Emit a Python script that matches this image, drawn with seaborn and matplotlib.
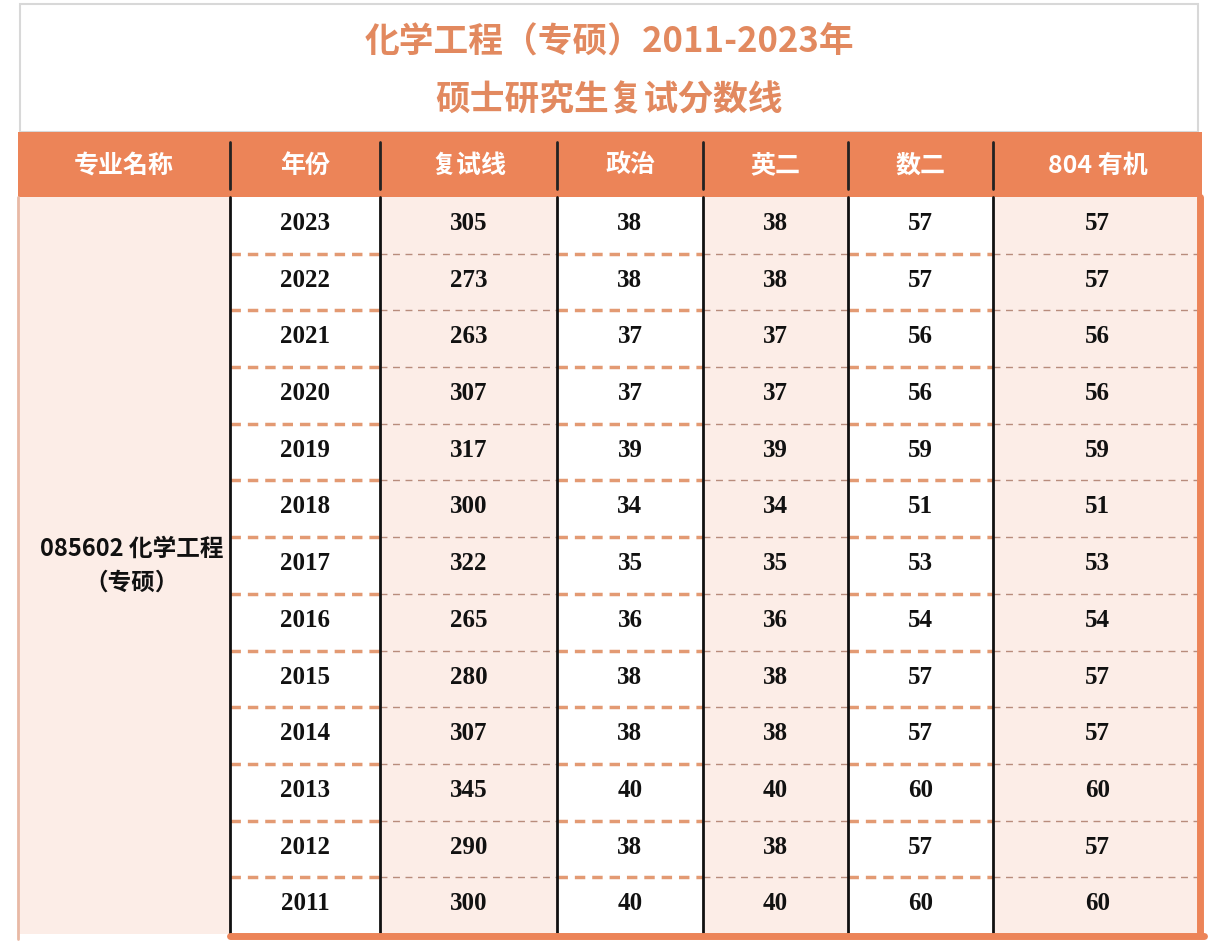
import matplotlib
matplotlib.use("Agg")
import matplotlib.pyplot as plt
from matplotlib.patches import Rectangle
import seaborn as sns

title_lines = ["化学工程（专硕）2011-2023年", "硕士研究生复试分数线"]
headers = ["专业名称", "年份", "复试线", "政治", "英二", "数二", "804 有机"]
major = "085602 化学工程\n（专硕）"
years = [2023, 2022, 2021, 2020, 2019, 2018, 2017, 2016, 2015, 2014, 2013, 2012, 2011]
total = [305, 273, 263, 307, 317, 300, 322, 265, 280, 307, 345, 290, 300]
politics = [38, 38, 37, 37, 39, 34, 35, 36, 38, 38, 40, 38, 40]
english = [38, 38, 37, 37, 39, 34, 35, 36, 38, 38, 40, 38, 40]
math2 = [57, 57, 56, 56, 59, 51, 53, 54, 57, 57, 60, 57, 60]
organic = [57, 57, 56, 56, 59, 51, 53, 54, 57, 57, 60, 57, 60]

sns.set_style("white")
ORANGE = "#EC8458"
PINK = "#FCEDE7"
TITLE = "#E2895F"
CJK = ["Noto Sans CJK SC", "Noto Sans CJK JP", "Noto Sans CJK TC", "Noto Sans CJK KR", "DejaVu Sans"]
SERIF = "Liberation Serif"

fig = plt.figure(figsize=(12.11, 9.45), dpi=100)
ax = fig.add_axes([0, 0, 1, 1])
ax.set_xlim(0, 1211); ax.set_ylim(945, 0); ax.axis("off")

# title box
ax.add_patch(Rectangle((20, 5), 1178, 128, fill=False, ec="#D8D8D8", lw=1.5))
ax.text(609, 42, title_lines[0], ha="center", va="center", fontsize=25, color=TITLE, fontfamily=CJK, fontweight="bold")
ax.text(609, 100, title_lines[1], ha="center", va="center", fontsize=25, color=TITLE, fontfamily=CJK, fontweight="bold")

edges = [18, 230, 380, 557, 703, 848, 993, 1202]
top_h, bot_h = 133, 198
body_bot = 935
nrow = len(years)
rh = (body_bot - bot_h) / nrow

# header
ax.add_patch(Rectangle((18, top_h), 1184, bot_h - top_h, color=ORANGE, lw=0))
for i, h in enumerate(headers):
    ax.text((edges[i] + edges[i + 1]) / 2, (top_h + bot_h) / 2, h, ha="center", va="center",
            fontsize=18, color="white", fontfamily=CJK, fontweight="bold")
for x in edges[1:-1]:
    ax.plot([x, x], [top_h + 10, bot_h - 8], color="#222222", lw=2)

# body backgrounds
ax.add_patch(Rectangle((18, bot_h), 212, body_bot - bot_h, color=PINK, lw=0))
for c in range(6):
    col = "white" if c % 2 == 0 else PINK
    ax.add_patch(Rectangle((edges[c + 1], bot_h), edges[c + 2] - edges[c + 1], body_bot - bot_h, color=col, lw=0))

# dashed separators
for r in range(1, nrow):
    y = bot_h + r * rh
    for c in range(6):
        x0, x1 = edges[c + 1], edges[c + 2]
        if c % 2 == 0:
            ax.plot([x0, x1], [y, y], color="#E39A73", lw=2.5, ls=(0, (3, 2)))
        else:
            ax.plot([x0, x1], [y, y], color="#B88C7C", lw=1, ls=(0, (5, 4)))

for x in edges[1:-1]:
    ax.plot([x, x], [bot_h, body_bot], color="#111111", lw=2)
ax.plot([edges[-1] - 2, edges[-1] - 2], [bot_h, body_bot], color=ORANGE, lw=5)
ax.plot([18, 18], [bot_h, 940], color="#E8B9A5", lw=2)
ax.plot([230, 1204], [body_bot + 2, body_bot + 2], color=ORANGE, lw=5)

ax.text(132, 566, major, ha="center", va="center", fontsize=17, fontfamily=CJK,
        fontweight="bold", color="#111111", linespacing=1.5)

cols = [years, total, politics, english, math2, organic]
for c, vals in enumerate(cols):
    xc = (edges[c + 1] + edges[c + 2]) / 2
    for r, v in enumerate(vals):
        ax.text(xc, bot_h + (r + 0.45) * rh, str(v), ha="center", va="center",
                fontsize=18, fontfamily=SERIF, fontweight="bold", color="#111111")

fig.savefig("out.png", dpi=100, facecolor="white")
